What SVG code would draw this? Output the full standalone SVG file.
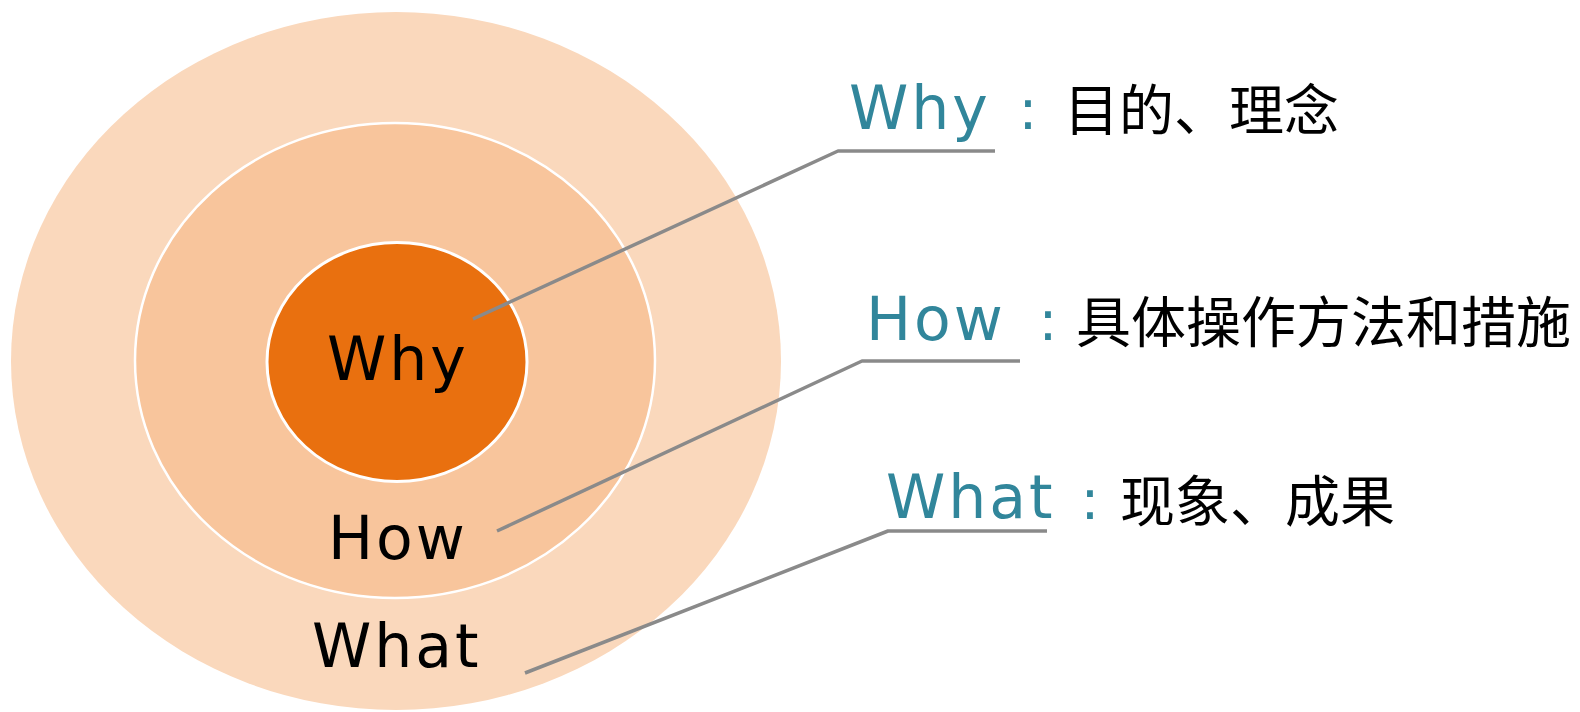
<svg xmlns="http://www.w3.org/2000/svg" width="1580" height="712" viewBox="0 0 1580 712">
<style>
.ring{stroke:#ffffff}
.lbl{font-family:"DejaVu Sans","Liberation Sans",sans-serif;font-size:60px;letter-spacing:3px;fill:#000000}
.key{font-family:"DejaVu Sans","Liberation Sans",sans-serif;font-size:60px;letter-spacing:3px;fill:#31869b}
.colon{font-family:"DejaVu Sans","Liberation Sans",sans-serif;font-size:56px;fill:#31869b;text-anchor:middle}
.zh{font-family:"Noto Sans CJK SC",sans-serif;font-size:55px;fill:#000000}
.conn{fill:none;stroke:#8a8a8a;stroke-width:3.5;stroke-linejoin:round}
</style>
<rect width="1580" height="712" fill="#ffffff"/>
<g id="what-ring">
<ellipse cx="396" cy="361" rx="385" ry="349" fill="#fad8bc"/>
</g>
<g id="how-ring">
<ellipse class="ring" cx="395" cy="360.5" rx="260" ry="237.5" fill="#f8c59c" stroke-width="2.5"/>
</g>
<g id="why-core">
<ellipse class="ring" cx="397" cy="362" rx="130" ry="119.5" fill="#e9700f" stroke-width="3"/>
<text class="lbl" x="327" y="380">Why</text>
</g>
<g id="how-label"><text class="lbl" x="328" y="559">How</text></g>
<g id="what-label"><text class="lbl" x="312" y="667">What</text></g>
<g id="connectors">
<polyline class="conn" points="473,319 838,151 995,151"/>
<polyline class="conn" points="497,531 862,361 1020,361"/>
<polyline class="conn" points="525,673 888,531 1047,531"/>
</g>
<g id="why-note">
<text class="key" x="849" y="129">Why</text>
<text class="colon" x="1028" y="129">:</text>
<text class="zh" x="1064" y="130">目的、理念</text>
</g>
<g id="how-note">
<text class="key" x="866" y="340">How</text>
<text class="colon" x="1048" y="340">:</text>
<text class="zh" x="1076" y="342">具体操作方法和措施</text>
</g>
<g id="what-note">
<text class="key" x="886" y="518">What</text>
<text class="colon" x="1090" y="519">:</text>
<text class="zh" x="1120" y="521">现象、成果</text>
</g>
</svg>
